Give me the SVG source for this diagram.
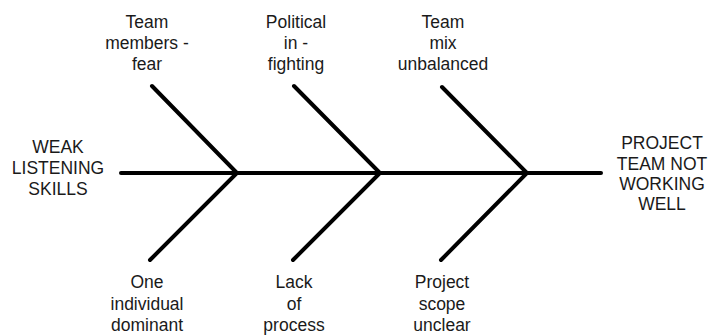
<svg xmlns="http://www.w3.org/2000/svg" width="711" height="336" viewBox="0 0 711 336">
  <style>
    .bone { fill: none; stroke: #000; stroke-width: 4; stroke-linecap: round; stroke-linejoin: miter; }
    .lbl { font-family: "Liberation Sans", Arial, sans-serif; font-size: 17.5px; fill: #1a1a1a; text-anchor: middle; }
  </style>
  <rect width="711" height="336" fill="#fff"/>

  <g id="connectors">
    <!-- spine -->
    <line class="bone" x1="121" y1="173" x2="601" y2="173" stroke-linecap="butt"/>
    <!-- rib pairs meeting at the spine -->
    <polyline class="bone" points="152,86 237,173 150,260"/>
    <polyline class="bone" points="294,86 380,173 293,260"/>
    <polyline class="bone" points="442,87 527,173 441,260"/>
  </g>

  <g id="cause-start">
    <text class="lbl" x="58" y="153">WEAK</text>
    <text class="lbl" x="58" y="174">LISTENING</text>
    <text class="lbl" x="58" y="195">SKILLS</text>
  </g>

  <g id="effect">
    <text class="lbl" x="662" y="149">PROJECT</text>
    <text class="lbl" x="662" y="170">TEAM NOT</text>
    <text class="lbl" x="662" y="190">WORKING</text>
    <text class="lbl" x="662" y="210">WELL</text>
  </g>

  <g id="team-members-fear">
    <text class="lbl" x="147" y="28">Team</text>
    <text class="lbl" x="147" y="49">members -</text>
    <text class="lbl" x="147" y="70">fear</text>
  </g>

  <g id="political-in-fighting">
    <text class="lbl" x="296" y="28">Political</text>
    <text class="lbl" x="296" y="49">in -</text>
    <text class="lbl" x="296" y="70">fighting</text>
  </g>

  <g id="team-mix-unbalanced">
    <text class="lbl" x="443" y="28">Team</text>
    <text class="lbl" x="443" y="49">mix</text>
    <text class="lbl" x="443" y="70">unbalanced</text>
  </g>

  <g id="one-individual-dominant">
    <text class="lbl" x="147" y="288">One</text>
    <text class="lbl" x="147" y="310">individual</text>
    <text class="lbl" x="147" y="331">dominant</text>
  </g>

  <g id="lack-of-process">
    <text class="lbl" x="294" y="288">Lack</text>
    <text class="lbl" x="294" y="310">of</text>
    <text class="lbl" x="294" y="331">process</text>
  </g>

  <g id="project-scope-unclear">
    <text class="lbl" x="442" y="288">Project</text>
    <text class="lbl" x="442" y="310">scope</text>
    <text class="lbl" x="442" y="331">unclear</text>
  </g>
</svg>
